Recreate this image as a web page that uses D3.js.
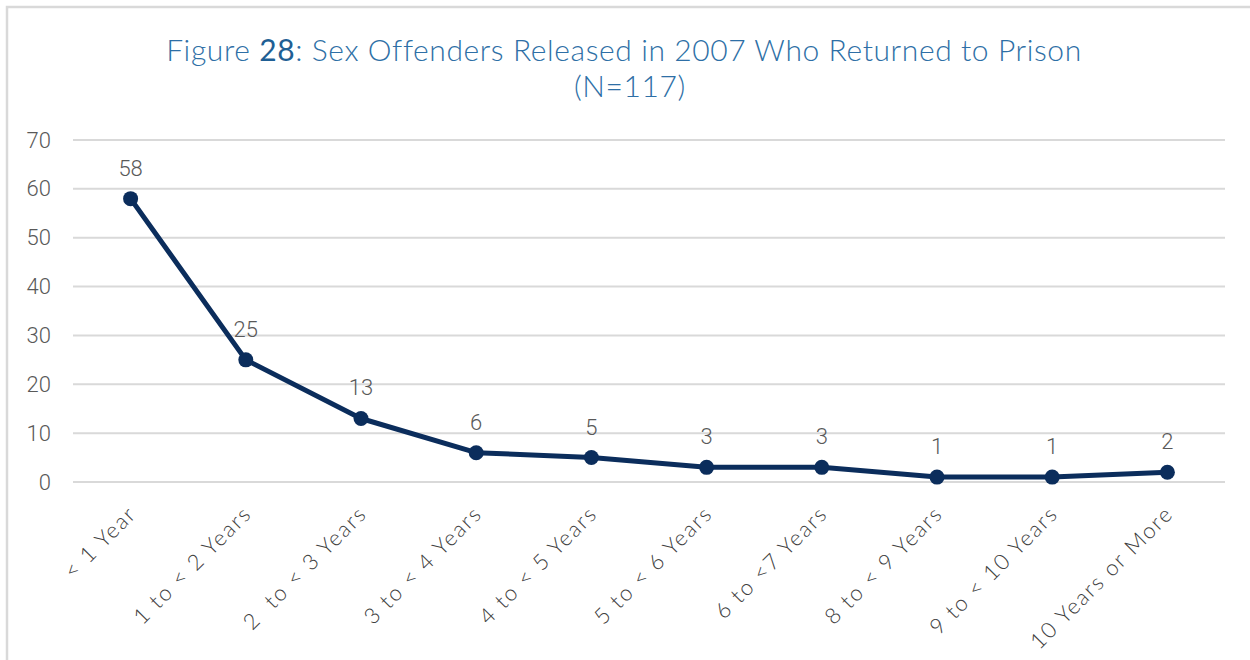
<!DOCTYPE html>
<html>
<head>
<meta charset="utf-8">
<script src="https://cdn.jsdelivr.net/npm/d3@7"></script>
<style>
  html, body { margin: 0; padding: 0; background: #fff; }
  svg { display: block; }
</style>
</head>
<body>
<svg id="chart" width="1250" height="660"></svg>
<script>
const categories = ["< 1 Year", "1 to < 2 Years", "2  to < 3 Years", "3 to < 4 Years", "4 to < 5 Years",
  "5 to < 6 Years", "6 to <7 Years", "8 to < 9 Years", "9 to < 10 Years", "10 Years or More"];
const values = [58, 25, 13, 6, 5, 3, 3, 1, 1, 2];
const yTicks = [0, 10, 20, 30, 40, 50, 60, 70];
const titleParts = ["Figure ", "28", ": Sex Offenders Released in 2007 Who Returned to Prison"];
const subtitle = "(N=117)";

const svg = d3.select("#chart");
const W = 1250, H = 660;
const plot = { left: 73, right: 1225, top: 140, bottom: 482 };

// frame
svg.append("path")
  .attr("d", `M7,${H} L7,7 L${W},7`)
  .attr("fill", "none").attr("stroke", "#d9d9d9").attr("stroke-width", 2.5);

const x = d3.scaleBand().domain(categories).range([plot.left, plot.right]);
const y = d3.scaleLinear().domain([0, 70]).range([plot.bottom, plot.top]);

// gridlines
svg.append("g").selectAll("line").data(yTicks).join("line")
  .attr("x1", plot.left).attr("x2", plot.right)
  .attr("y1", d => y(d)).attr("y2", d => y(d))
  .attr("stroke", "#d9d9d9").attr("stroke-width", 2);

// y axis labels
const yAxis = d3.axisLeft(y).tickValues(yTicks).tickSize(0).tickPadding(0);
const yg = svg.append("g").attr("transform", `translate(51,0)`).call(yAxis);
yg.select(".domain").remove();
yg.selectAll("text")
  .attr("font-family", "Roboto, 'Liberation Sans', sans-serif")
  .attr("font-weight", 300)
  .attr("font-size", 22).attr("fill", "#595959");

// x axis labels
const xAxis = d3.axisBottom(x).tickSize(0).tickPadding(0);
const xg = svg.append("g").attr("transform", `translate(0,${plot.bottom})`).call(xAxis);
xg.select(".domain").remove();
xg.selectAll("text")
  .attr("font-family", "Lato, 'Open Sans', sans-serif")
  .attr("font-weight", 300)
  .attr("font-size", 22).attr("fill", "#404040")
  .attr("letter-spacing", 1.8)
  .attr("text-anchor", "end")
  .attr("dy", "0.72em").attr("y", 0)
  .attr("transform", "translate(-4,22) rotate(-45)")
  .attr("xml:space", "preserve");

// line
const cx = d => x(d) + x.bandwidth() / 2;
const line = d3.line().x((d, i) => cx(categories[i])).y(d => y(d));
svg.append("path").datum(values)
  .attr("d", line).attr("fill", "none")
  .attr("stroke", "#0b2d5c").attr("stroke-width", 5)
  .attr("stroke-linejoin", "round");

svg.append("g").selectAll("circle").data(values).join("circle")
  .attr("cx", (d, i) => cx(categories[i])).attr("cy", d => y(d))
  .attr("r", 7.5).attr("fill", "#0b2d5c");

// data labels
svg.append("g").selectAll("text").data(values).join("text")
  .attr("x", (d, i) => cx(categories[i])).attr("y", d => y(d) - 23)
  .attr("text-anchor", "middle")
  .attr("font-family", "Roboto, 'Liberation Sans', sans-serif")
  .attr("font-weight", 300)
  .attr("font-size", 22).attr("fill", "#595959")
  .text(d => d);

// title
const t = svg.append("text").attr("x", 624).attr("y", 61)
  .attr("text-anchor", "middle")
  .attr("font-family", "Lato, 'Open Sans', sans-serif")
  .attr("font-weight", 300)
  .attr("letter-spacing", 0.6)
  .attr("font-size", 30).attr("fill", "#2e6fa6");
t.append("tspan").text(titleParts[0]);
t.append("tspan").attr("fill", "#1f5f94").attr("font-weight", 400).text(titleParts[1]);
t.append("tspan").text(titleParts[2]);
svg.append("text").attr("x", 630).attr("y", 97)
  .attr("text-anchor", "middle")
  .attr("font-family", "Lato, 'Open Sans', sans-serif")
  .attr("font-weight", 300)
  .attr("letter-spacing", 0.6)
  .attr("font-size", 30).attr("fill", "#2e6fa6")
  .text(subtitle);
</script>
</body>
</html>
